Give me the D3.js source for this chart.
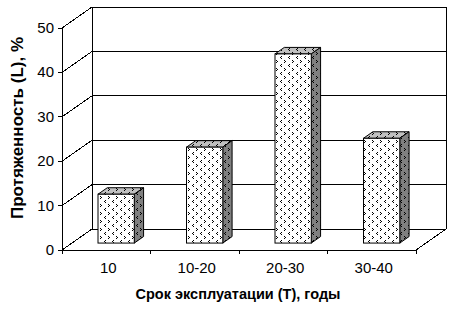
<!DOCTYPE html>
<html>
<head>
<meta charset="UTF-8">
<script src="https://cdn.jsdelivr.net/npm/d3@7/dist/d3.min.js"></script>
<style>
  body { margin: 0; background: #fff; }
  svg { display: block; font-family: "Liberation Sans", Arial, sans-serif; }
  .grid { fill: none; stroke: #000; stroke-width: 1px; shape-rendering: crispEdges; }
  .tick-label { font-size: 15px; fill: #000; }
  .axis-title { font-weight: bold; fill: #000; }
</style>
</head>
<body>
<div id="chart"></div>
<script>
  var categories = ["10", "10-20", "20-30", "30-40"];
  var values = [11, 21.6, 42.6, 23.6];
  var yTicks = [0, 10, 20, 30, 40, 50];
  var xTitle = "Срок эксплуатации (Т), годы";
  var yTitle = "Протяженность (L), %";

  var width = 456, height = 313;
  // front plane of the 3d box, plus offset to the back wall
  var plotLeft = 62, plotRight = 416, plotBottom = 250, plotTop = 28;
  var depthX = 30, depthY = -21;
  var barFront = 0.33, barBack = 0.64;

  var svg = d3.select("#chart").append("svg")
    .attr("width", width)
    .attr("height", height);

  /* patterns */
  var defs = svg.append("defs");
  function addPattern(id, bg) {
    var p = defs.append("pattern")
      .attr("id", id)
      .attr("patternUnits", "userSpaceOnUse")
      .attr("width", 8).attr("height", 8);
    p.append("rect").attr("width", 8).attr("height", 8).attr("fill", bg);
    var dots = [[1, 0], [0, 1], [1, 2], [4, 4], [5, 5], [4, 6]];
    dots.forEach(function (d) {
      p.append("rect").attr("x", d[0]).attr("y", d[1])
        .attr("width", 1).attr("height", 1).attr("fill", "#000");
    });
  }
  addPattern("front", "#fff");
  addPattern("topface", "#c0c0c0");
  addPattern("side", "#808080");

  /* scales */
  var x = d3.scaleBand()
    .domain(categories)
    .range([plotLeft, plotRight])
    .paddingInner(0.59)
    .paddingOuter(0.295);

  var y = d3.scaleLinear()
    .domain([0, 50])
    .range([plotBottom, plotTop]);

  function px(v, d) { return v + depthX * d; }
  function py(v, d) { return v + depthY * d; }

  var g = svg.append("g");

  /* walls & gridlines */
  yTicks.forEach(function (t) {
    var yy = y(t);
    g.append("path").attr("class", "grid")
      .attr("d", "M" + plotLeft + "," + yy + "L" + px(plotLeft, 1) + "," + py(yy, 1) +
        "L" + px(plotRight, 1) + "," + py(yy, 1));
  });
  g.append("line").attr("class", "grid")
    .attr("x1", px(plotLeft, 1)).attr("x2", px(plotLeft, 1))
    .attr("y1", py(y(0), 1)).attr("y2", py(y(50), 1));
  g.append("line").attr("class", "grid")
    .attr("x1", px(plotRight, 1)).attr("x2", px(plotRight, 1))
    .attr("y1", py(y(0), 1)).attr("y2", py(y(50), 1));
  g.append("path").attr("class", "grid")
    .attr("d", "M" + plotLeft + "," + plotBottom + "L" + plotRight + "," + plotBottom +
      "L" + px(plotRight, 1) + "," + py(plotBottom, 1));

  /* y axis */
  g.append("line").attr("class", "grid")
    .attr("x1", plotLeft).attr("x2", plotLeft)
    .attr("y1", y(0)).attr("y2", y(50));
  yTicks.forEach(function (t) {
    g.append("line").attr("class", "grid")
      .attr("x1", plotLeft - 4).attr("x2", plotLeft)
      .attr("y1", y(t)).attr("y2", y(t));
    g.append("text").attr("class", "tick-label")
      .attr("x", plotLeft - 8).attr("y", y(t) + 5)
      .attr("text-anchor", "end")
      .text(t);
  });

  /* x axis ticks */
  d3.range(categories.length + 1).forEach(function (i) {
    var tx = plotLeft + i * x.step();
    g.append("line").attr("class", "grid")
      .attr("x1", tx).attr("x2", tx)
      .attr("y1", plotBottom).attr("y2", plotBottom + 4);
  });
  categories.forEach(function (c) {
    g.append("text").attr("class", "tick-label")
      .attr("x", x(c) + x.bandwidth() / 2 + 2)
      .attr("y", plotBottom + 23)
      .attr("text-anchor", "middle")
      .text(c);
  });

  /* bars */
  categories.forEach(function (c, i) {
    var x0 = x(c) + depthX * barFront, x1 = x0 + x.bandwidth();
    var yb = py(y(0), barFront), yt = py(y(values[i]), barFront);
    var dx = depthX * (barBack - barFront), dy = depthY * (barBack - barFront);
    var bar = g.append("g");
    bar.append("path")
      .attr("d", "M" + x0 + "," + yt + "L" + (x0 + dx) + "," + (yt + dy) +
        "L" + (x1 + dx) + "," + (yt + dy) + "L" + x1 + "," + yt + "Z")
      .attr("fill", "url(#topface)").attr("stroke", "#000");
    bar.append("path")
      .attr("d", "M" + x1 + "," + yt + "L" + (x1 + dx) + "," + (yt + dy) +
        "L" + (x1 + dx) + "," + (yb + dy) + "L" + x1 + "," + yb + "Z")
      .attr("fill", "url(#side)").attr("stroke", "#000");
    bar.append("rect")
      .attr("x", x0).attr("y", yt)
      .attr("width", x1 - x0).attr("height", yb - yt)
      .attr("fill", "url(#front)").attr("stroke", "#000");
  });

  /* titles */
  svg.append("text").attr("class", "axis-title")
    .attr("x", 238).attr("y", 299)
    .attr("text-anchor", "middle")
    .style("font-size", "14.5px")
    .text(xTitle);
  svg.append("text").attr("class", "axis-title")
    .attr("transform", "translate(23,128) rotate(-90)")
    .attr("text-anchor", "middle")
    .style("font-size", "17px")
    .text(yTitle);
</script>
</body>
</html>
